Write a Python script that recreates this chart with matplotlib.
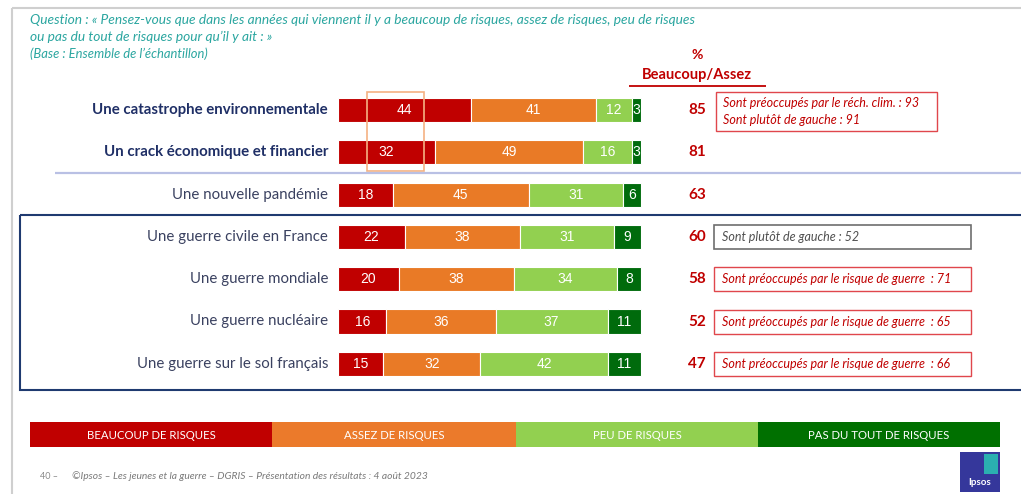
import matplotlib
matplotlib.use("Agg")
import matplotlib.pyplot as plt
from matplotlib.patches import Rectangle
import numpy as np

# ---------------- data ----------------
items = ["Une catastrophe environnementale", "Un crack économique et financier",
         "Une nouvelle pandémie", "Une guerre civile en France", "Une guerre mondiale",
         "Une guerre nucléaire", "Une guerre sur le sol français"]
beaucoup = [44, 32, 18, 22, 20, 16, 15]
assez = [41, 49, 45, 38, 38, 36, 32]
peu = [12, 16, 31, 31, 34, 37, 42]
pas_du_tout = [3, 3, 6, 9, 8, 11, 11]
series_names = ["Beaucoup de risques", "Assez de risques", "Peu de risques", "Pas du tout de risques"]
notes = [["Sont préoccupés par le réch. clim. : 93", "Sont plutôt de gauche : 91"],
         None, None,
         ["Sont plutôt de gauche : 52"],
         ["Sont préoccupés par le risque de guerre  : 71"],
         ["Sont préoccupés par le risque de guerre  : 65"],
         ["Sont préoccupés par le risque de guerre  : 66"]]
question_lines = ["Question : « Pensez-vous que dans les années qui viennent il y a beaucoup de risques, assez de risques, peu de risques",
                  "ou pas du tout de risques pour qu\u2019il y ait : »"]
base = "(Base : Ensemble de l\u2019échantillon)"
footer = "©Ipsos – Les jeunes et la guerre – DGRIS – Présentation des résultats : 4 août 2023"

# ---------------- style ----------------
colors = ["#C00000", "#E97A26", "#92D050", "#006B0C"]
legend_colors = ["#C00000", "#EB7A2B", "#92D050", "#007000"]
RED = "#C00000"
NAVY = "#1F2F66"
TEAL = "#2BA6A0"
FONT = "Lato"

W, H = 1021, 494
fig = plt.figure(figsize=(W / 100, H / 100), dpi=100)
ax = fig.add_axes([0, 0, 1, 1])

# pixel <-> data helpers (bar scale: 0% at px 338, 100% at px 641; rows every 42.3 px from y=110)
X0, X100 = 338, 641
PPU = (X100 - X0) / 100.0
Y0, DY = 110, 42.3
def px2x(p): return (p - X0) / PPU
def px2y(p): return (p - Y0) / DY

ax.set_xlim(px2x(0), px2x(W))
ax.set_ylim(px2y(H), px2y(0))
ax.axis("off")

def rect_px(x0, y0, x1, y1, **kw):
    r = Rectangle((px2x(x0), px2y(y0)), px2x(x1) - px2x(x0), px2y(y1) - px2y(y0), **kw)
    ax.add_patch(r)
    return r

def line_px(x0, y0, x1, y1, **kw):
    ax.plot([px2x(x0), px2x(x1)], [px2y(y0), px2y(y1)], solid_capstyle="butt", **kw)

# slide frame
line_px(12, 8, W, 8, color="#CFCFCF", lw=1.5)
line_px(12, 8, 12, H, color="#CFCFCF", lw=1.5)

# question text
for k, ln in enumerate(question_lines):
    ax.text(px2x(30), px2y(20 + 17 * k), ln, ha="left", va="center", fontsize=9.9,
            style="italic", color=TEAL, family=FONT)
ax.text(px2x(30), px2y(54), base, ha="left", va="center", fontsize=9.4, style="italic",
        color=TEAL, family=FONT)

# header
ax.text(px2x(697), px2y(55), "%", ha="center", va="center", fontsize=10, fontweight="bold",
        color=RED, family=FONT)
ax.text(px2x(697), px2y(75), "Beaucoup/Assez", ha="center", va="center", fontsize=10.5,
        fontweight="bold", color=RED, family=FONT)
line_px(629, 86, 766, 86, color=RED, lw=1.3)

# separators / boxes
line_px(55, 173, W, 173, color="#B9C0E4", lw=1.6)
rect_px(20, 215, W + 5, 390, fill=False, edgecolor="#1F3A70", lw=1.5)

# stacked bars
rows = np.arange(len(items))
data = [beaucoup, assez, peu, pas_du_tout]
left = np.zeros(len(items))
for vals, col, name in zip(data, colors, series_names):
    vals = np.array(vals, dtype=float)
    bars = ax.barh(rows, vals, left=left, height=0.57, color=col, edgecolor="white",
                   linewidth=0.8, label=name)
    for b, v in zip(bars, vals):
        ax.text(b.get_x() + b.get_width() / 2, b.get_y() + b.get_height() / 2, f"{int(v)}",
                ha="center", va="center", color="white", fontsize=10, family="Liberation Sans")
    left += vals

# highlight box around first column
rect_px(367, 92, 424, 171, fill=False, edgecolor="#F5B183", lw=1.2)

# item labels & totals
for i, (name, b, a) in enumerate(zip(items, beaucoup, assez)):
    bold = i < 2
    ax.text(px2x(328), i, name, ha="right", va="center", fontsize=10.8,
            fontweight="bold" if bold else "normal", color=NAVY if bold else "#3A4160",
            family=FONT)
    ax.text(px2x(697), i, f"{b + a}", ha="center", va="center", fontsize=11,
            fontweight="bold", color=RED, family=FONT)

# notes
for i, note in enumerate(notes):
    if not note:
        continue
    if len(note) == 2:
        rect_px(716, 92, 937, 131, fill=False, edgecolor="#E0474C", lw=1.0)
        ax.text(px2x(723), px2y(103), note[0], ha="left", va="center", fontsize=9,
                style="italic", color=RED, family=FONT)
        ax.text(px2x(723), px2y(120), note[1], ha="left", va="center", fontsize=9,
                style="italic", color=RED, family=FONT)
    else:
        gray = "gauche" in note[0]
        ec = "#6E6E6E" if gray else "#E0474C"
        tc = "#505050" if gray else RED
        yc = Y0 + DY * i
        rect_px(714, yc - 12, 971, yc + 12, fill=False, edgecolor=ec, lw=1.2 if gray else 1.0)
        ax.text(px2x(722), i, note[0], ha="left", va="center", fontsize=9,
                style="italic", color=tc, family=FONT)

# legend band
edges = [30, 272, 516, 758, 1000]
for k, (name, col) in enumerate(zip(series_names, legend_colors)):
    rect_px(edges[k], 422, edges[k + 1], 447, facecolor=col, edgecolor="none")
    ax.text(px2x((edges[k] + edges[k + 1]) / 2), px2y(435), name.upper(), ha="center",
            va="center", fontsize=8.2, color="white", family=FONT)

# footer
ax.text(px2x(40), px2y(476), "40 –", ha="left", va="center", fontsize=6.5, color="#8A8A8A",
        family=FONT)
ax.text(px2x(72), px2y(476), footer, ha="left", va="center", fontsize=7.4, style="italic",
        color="#7A7A7A", family=FONT)

# Ipsos logo
rect_px(960, 452, 1000, 492, facecolor="#35379B", edgecolor="none")
rect_px(984, 454, 998, 474, facecolor="#2BB0B0", edgecolor="none")
ax.text(px2x(980), px2y(482), "Ipsos", ha="center", va="center", fontsize=7,
        fontweight="bold", color="white", family=FONT)

fig.savefig("out.png", dpi=100)
